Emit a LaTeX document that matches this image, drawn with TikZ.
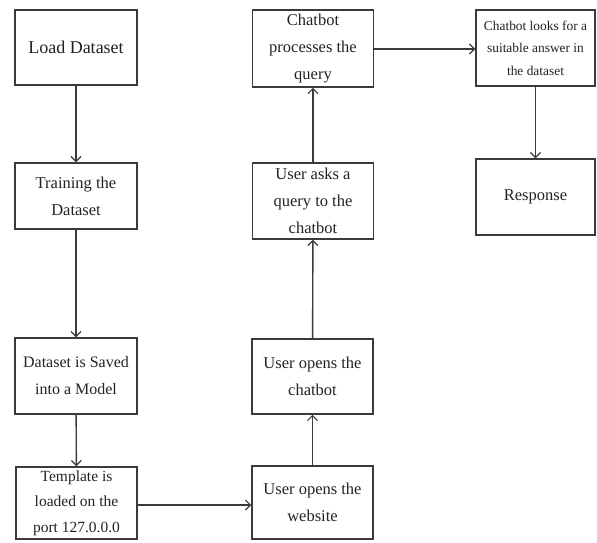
\documentclass[tikz,border=0pt]{standalone}
\usepackage{fontspec}
\setmainfont{Liberation Serif}
\usetikzlibrary{arrows.meta}
\definecolor{edge}{HTML}{3A3A3A}
\definecolor{txt}{HTML}{222222}
\tikzset{
  box/.style={draw=edge, line width=1.5pt, inner sep=0pt, align=center, text=txt,
    font={\fontsize{16.5}{27}\selectfont}},
  flow/.style={draw=edge, line width=1.4pt, -{Straight Barb[length=5pt,width=10pt,line width=1.2pt]}}
}
\begin{document}
\begin{tikzpicture}[x=1pt,y=-1pt]
\useasboundingbox (0,0) rectangle (597,542);
\node[box, minimum width=122pt, minimum height=75pt, font={\fontsize{18}{27}\selectfont}] (b1) at (76,47.5) {Load Dataset};
\node[box, minimum width=122pt, minimum height=66pt] (b2) at (76,196) {Training the\\Dataset};
\node[box, minimum width=122pt, minimum height=76pt, font={\fontsize{16}{27}\selectfont}] (b3) at (76,376) {Dataset is Saved\\into a Model};
\node[box, minimum width=121pt, minimum height=72pt, font={\fontsize{15.5}{25.5}\selectfont}] (b4) at (76.5,503) {Template is\\loaded on the\\port 127.0.0.0};
\node[box, minimum width=121pt, minimum height=73pt] (b5) at (312.5,502.5) {User opens the\\website};
\node[box, minimum width=121pt, minimum height=75pt] (b6) at (312.5,376.5) {User opens the\\chatbot};
\node[box, minimum width=121pt, minimum height=76pt] (b7) at (313,201) {User asks a\\query to the\\chatbot};
\node[box, minimum width=121pt, minimum height=77pt] (b8) at (313,48.5) {Chatbot\\processes the\\query};
\node[box, minimum width=119pt, minimum height=76pt, font={\fontsize{13.4}{22.5}\selectfont}] (b9) at (535.5,48) {Chatbot looks for a\\suitable answer in\\the dataset};
\node[box, minimum width=119pt, minimum height=76pt] (b10) at (535.5,197) {Response};
\draw[flow] (b1) -- (b2);
\draw[flow] (b2) -- (b3);
\draw[flow] (b3) -- (b4);
\draw[flow] (b4.east |- 0,505) -- (b5.west |- 0,505);
\draw[flow] (b5) -- (b6);
\draw[flow] (b6) -- (b7);
\draw[flow] (b7) -- (b8);
\draw[flow] (b8.east |- 0,49) -- (b9.west |- 0,49);
\draw[flow] (b9) -- (b10);
\end{tikzpicture}
\end{document}
